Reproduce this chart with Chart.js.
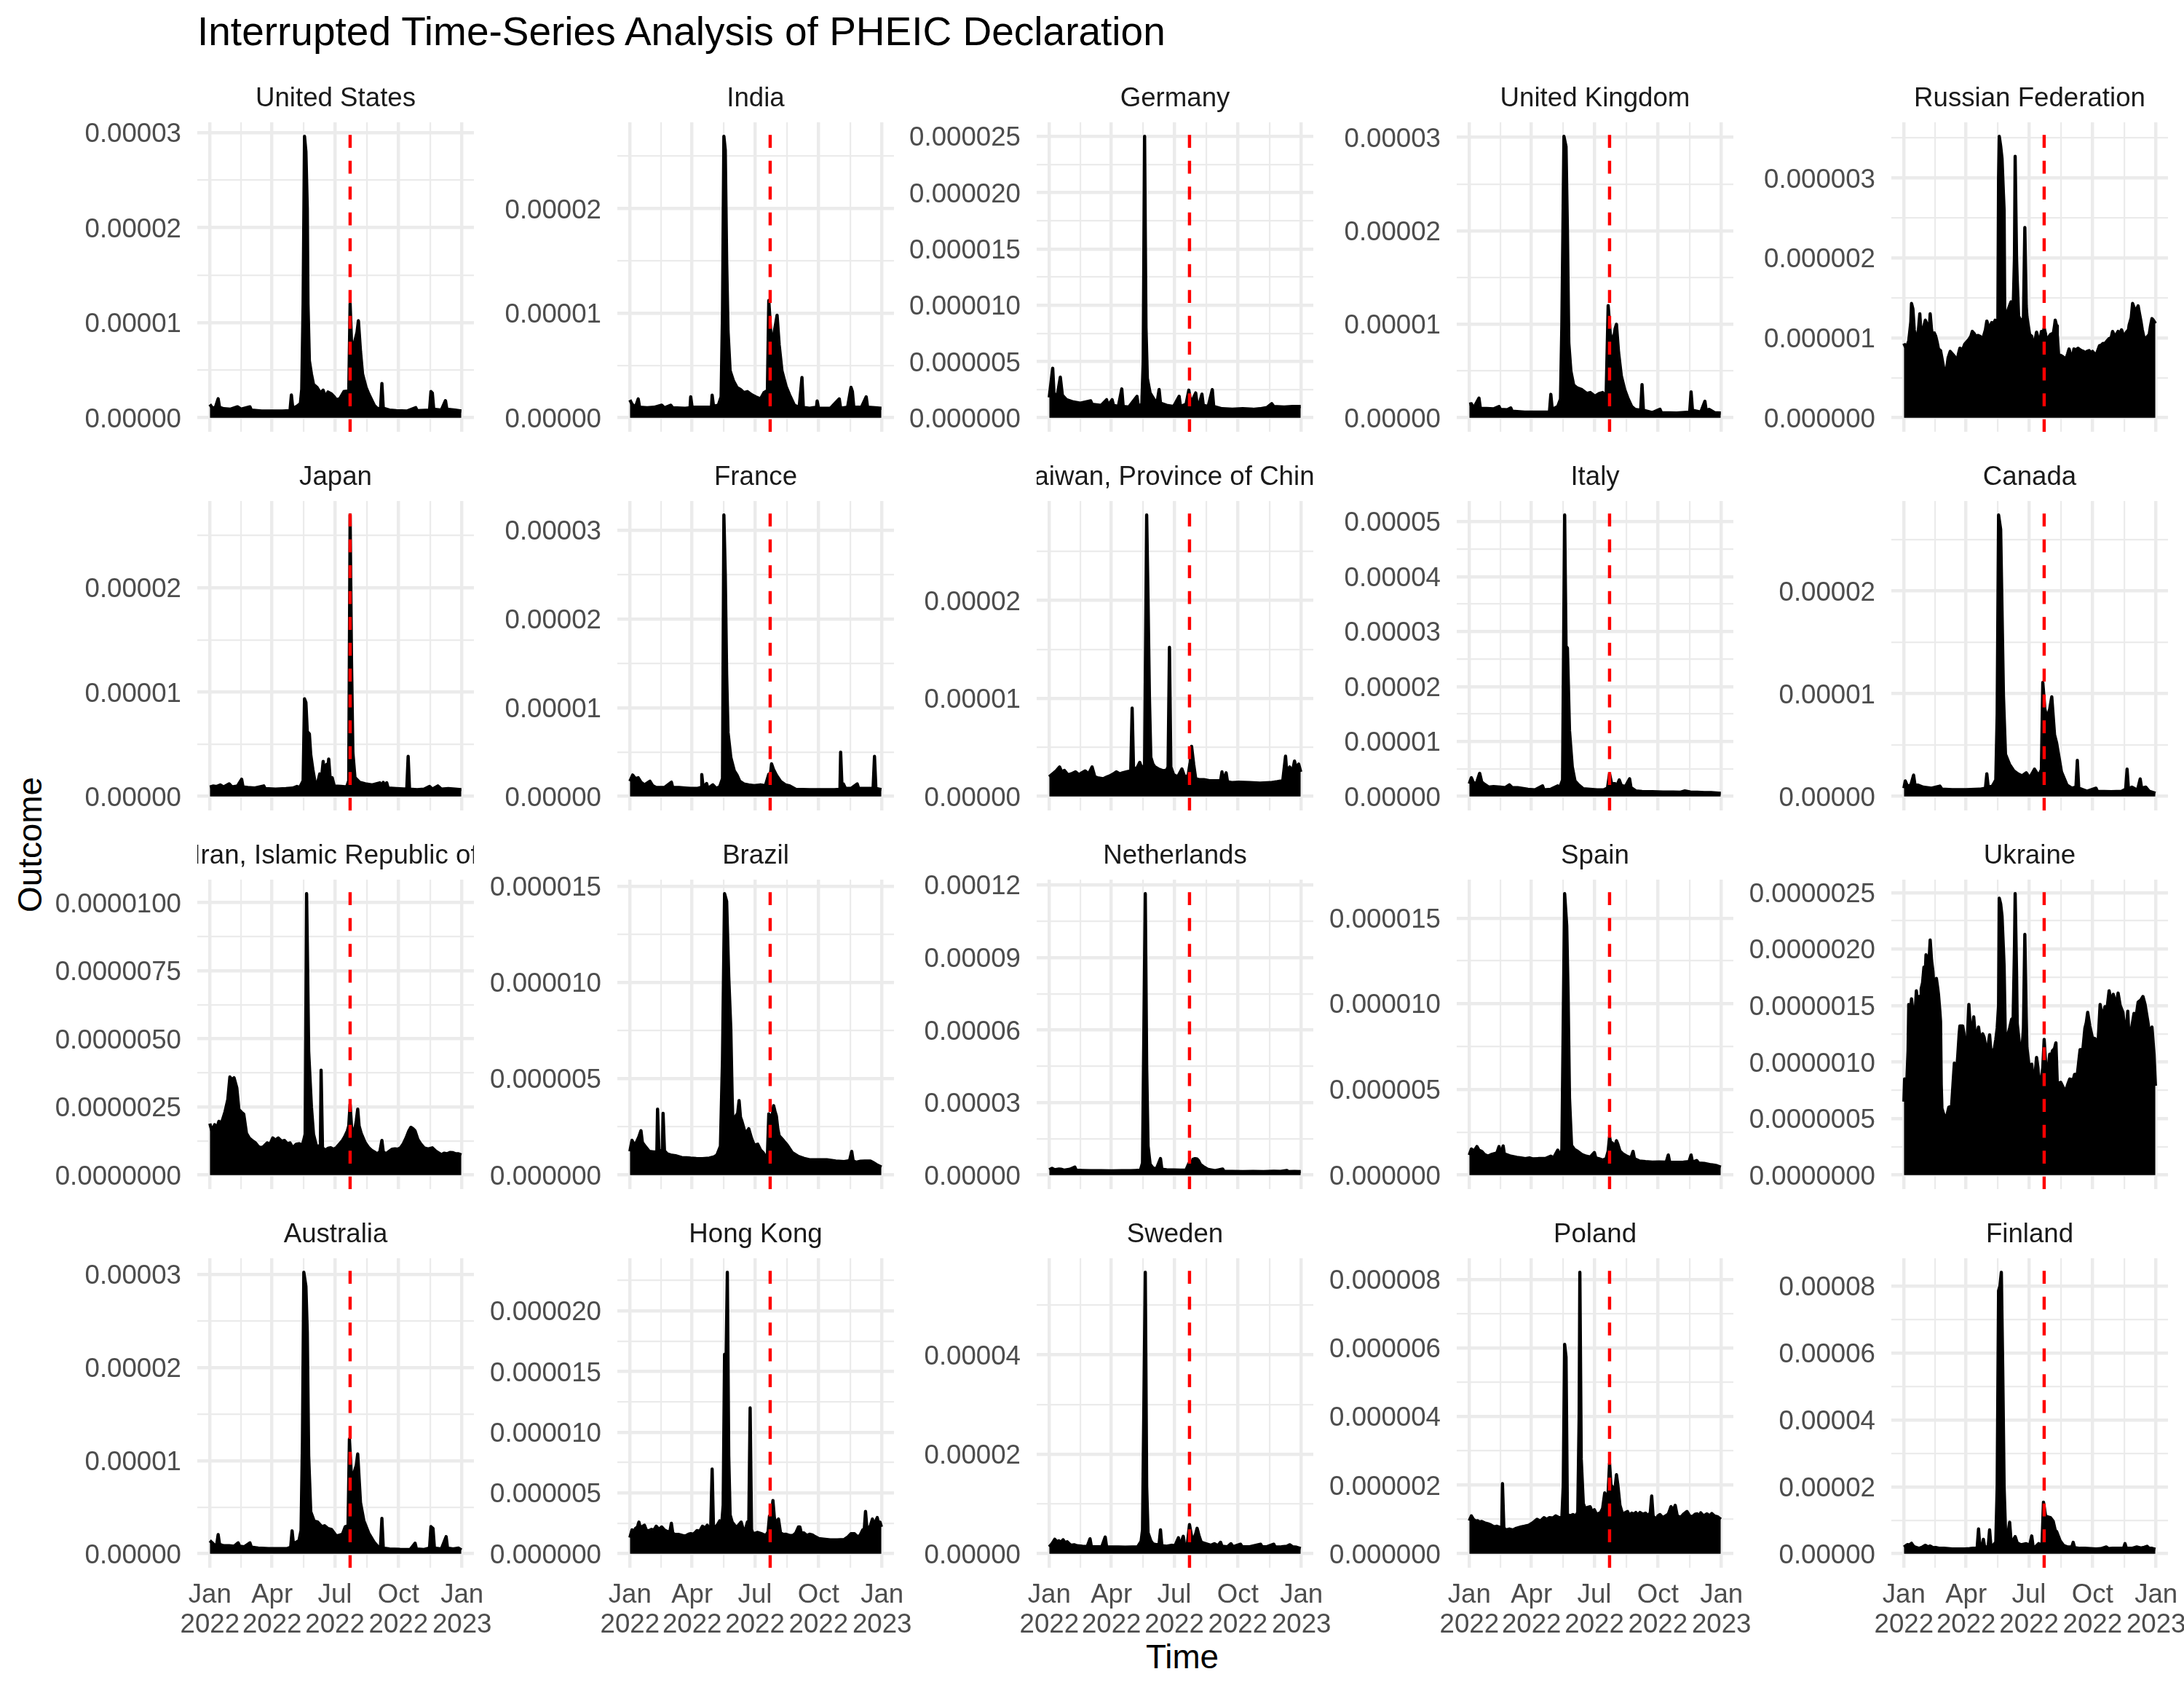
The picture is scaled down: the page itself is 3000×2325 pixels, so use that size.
<!DOCTYPE html>
<html><head><meta charset="utf-8">
<script src="https://cdn.jsdelivr.net/npm/chart.js@4.4.1/dist/chart.umd.min.js"></script>
<style>
html,body{margin:0;padding:0;background:#fff;}
#root{position:relative;width:3000px;height:2325px;background:#fff;overflow:hidden;font-family:"Liberation Sans",Arial,Helvetica,sans-serif;}
canvas{position:absolute;}
.t{position:absolute;white-space:nowrap;line-height:1;color:#000;}
</style></head><body><div id="root">
<div class="t" style="left:271px;top:15.8px;font-size:55px;">Interrupted Time-Series Analysis of PHEIC Declaration</div>
<div class="t" style="left:1624px;top:2253.2px;font-size:45.83px;transform:translateX(-50%);">Time</div>
<div class="t" style="left:42.1px;top:1160px;font-size:45.83px;transform:translate(-50%,-50%) rotate(-90deg);">Outcome</div>
</div>
<script>
// ---------------- DATA ----------------
const countries = ["United States","India","Germany","United Kingdom","Russian Federation","Japan","France","Taiwan, Province of China","Italy","Canada","Iran, Islamic Republic of","Brazil","Netherlands","Spain","Ukraine","Australia","Hong Kong","Sweden","Poland","Finland"];
const PHEIC_DAY = 203; // 2022-07-23, day index from 2022-01-01
const xTickDays = [0, 90, 181, 273, 365];
const xTickMonths = ["Jan","Apr","Jul","Oct","Jan"];
const xTickYears = ["2022","2022","2022","2022","2023"];
// multiplier of each series' values
const valueUnits = [1e-6,1e-6,1e-6,1e-6,1e-7, 1e-6,1e-6,1e-6,1e-6,1e-6, 1e-7,1e-7,1e-6,1e-7,1e-7, 1e-6,1e-7,1e-6,1e-7,1e-6];

// [day, value] points (upper envelope of the daily series)
const unitedStates = [[0,1.4],[2,1.2],[4,1.0],[8,1.1],[12,2.0],[14,1.1],[20,0.95],[30,0.9],[40,1.15],[45,0.9],[58,1.15],[60,0.8],[75,0.7],[90,0.7],[105,0.7],[116,0.75],[118,2.4],[120,1.0],[126,1.2],[131,1.5],[133,3.0],[135,12],[137,29.6],[139,28],[141,22],[142,12],[144,6],[147,4.6],[150,3.5],[155,3.2],[160,2.6],[164,2.9],[167,2.2],[171,2.7],[176,2.5],[180,2.2],[183,1.9],[188,2.0],[194,2.75],[198,2.8],[201,2.5],[203,12],[205,8],[208,7.5],[213,9],[215,10.2],[218,7],[221,4.6],[226,3.2],[230,2.5],[238,1.3],[242,1.0],[247,0.9],[249,3.6],[251,1.0],[260,0.8],[270,0.75],[285,0.7],[298,1.06],[300,0.75],[318,0.8],[320,2.75],[322,2.6],[324,0.9],[335,0.8],[341,1.8],[343,0.9],[355,0.8],[364,0.7]];
const india = [[0,1.7],[3,1.3],[8,1.0],[12,1.8],[14,1.0],[25,0.95],[35,1.0],[46,1.2],[50,0.95],[59,1.2],[62,0.95],[80,0.9],[87,0.95],[88,2.0],[90,1.0],[105,1.0],[118,1.0],[119,2.15],[121,1.1],[128,1.2],[132,2.0],[134,10],[136,26.9],[138,25.6],[140,15],[142,8.3],[145,4.5],[150,3.5],[155,2.9],[160,2.7],[165,2.4],[170,2.5],[176,2.2],[182,2.0],[189,1.8],[194,2.4],[199,2.6],[201,11.2],[204,8],[207,7.5],[211,9],[213,9.8],[216,7],[220,4.5],[226,3.0],[231,2.2],[238,1.2],[245,1.0],[249,3.85],[251,1.0],[260,0.9],[270,1.0],[271,1.6],[273,0.9],[290,0.9],[303,1.8],[305,0.9],[315,1.0],[320,2.9],[322,2.5],[324,1.0],[335,1.0],[342,2.0],[344,1.0],[355,0.95],[364,0.9]];
const germany = [[0,1.8],[5,4.4],[7,2.0],[12,2.1],[16,3.6],[19,2.0],[25,1.6],[35,1.4],[45,1.3],[60,1.5],[62,1.2],[75,1.1],[83,1.6],[85,1.1],[91,1.6],[93,1.1],[100,1.0],[105,2.56],[107,1.0],[115,0.95],[127,1.9],[129,1.0],[134,1.2],[136,5],[138,25.0],[140,8],[142,3.5],[146,2.2],[152,1.6],[156,1.3],[159,2.5],[161,1.3],[170,1.1],[180,1.0],[188,1.9],[190,1.0],[198,1.2],[202,2.45],[205,1.3],[209,1.8],[212,2.2],[214,1.2],[218,1.4],[221,2.1],[223,1.1],[230,1.0],[236,2.5],[238,1.0],[250,0.8],[265,0.75],[280,0.8],[295,0.75],[305,0.8],[315,0.9],[322,1.25],[325,1.0],[340,0.95],[352,1.0],[364,1.0]];
const unitedKingdom = [[0,1.45],[3,1.5],[6,1.0],[14,2.1],[16,1.0],[25,1.0],[35,0.95],[43,1.2],[45,0.9],[55,0.85],[60,1.05],[62,0.7],[80,0.6],[100,0.6],[116,0.6],[118,2.5],[120,0.9],[128,1.2],[132,2.0],[134,10],[137,30.1],[140,29],[142,20],[144,8],[147,5],[151,3.5],[156,3.2],[163,3.0],[170,2.6],[175,2.7],[182,2.3],[188,2.6],[193,2.7],[198,2.2],[201,12.0],[204,9],[208,8],[211,9.5],[213,10.0],[216,7],[220,4.5],[225,3.0],[230,2.0],[235,1.2],[240,0.9],[248,0.8],[250,3.55],[252,0.8],[265,0.55],[276,0.9],[278,0.55],[300,0.5],[319,0.6],[321,2.76],[323,0.8],[335,0.6],[341,1.76],[343,0.7],[347,0.9],[355,0.55],[364,0.5]];
const russianFederation = [[0,9.3],[2,8.9],[4,8.9],[7,9.6],[10,12],[11,14.3],[13,13.6],[15,11],[16,10.1],[19,10.2],[21,11],[23,13.0],[25,10.1],[27,10.5],[29,11.5],[31,12.2],[33,11.8],[35,10.8],[37,11.5],[38,13.0],[40,11],[41,10.5],[44,10.6],[46,10.2],[48,9.5],[50,8.6],[53,8.4],[56,7.0],[58,6.0],[60,6.1],[62,6.2],[64,7.5],[67,8.3],[70,8.0],[73,7.7],[77,7.1],[79,8.0],[81,8.7],[85,8.5],[88,9.2],[91,9.5],[94,9.8],[97,10.2],[99,10.8],[102,10.5],[104,10.1],[107,10.3],[110,10.2],[113,10.0],[115,10.1],[118,11],[120,12.1],[122,11.5],[124,11.2],[127,11.9],[130,11.8],[132,12.2],[135,11.8],[136,12],[137,30],[138,35.2],[140,34],[142,32.4],[144,28],[145,26],[146,11.8],[148,12.5],[150,13.3],[152,13.8],[155,14.5],[158,13],[160,20],[161,32.7],[163,20],[164,17.2],[166,12.7],[169,12.2],[171,11.9],[173,12.5],[175,23.8],[177,14],[178,12.7],[180,11.5],[182,10.4],[185,10.2],[187,9.0],[190,9.8],[192,10.7],[194,10.0],[196,9.5],[198,10.2],[199,10.8],[201,10.5],[203,11.2],[205,10.5],[206,9.6],[209,10.0],[212,10.4],[214,10.5],[216,10.4],[218,11.5],[219,12.2],[221,11.5],[222,10.4],[224,7.7],[227,7.8],[229,7.7],[232,7.5],[234,7.2],[237,8.0],[239,8.6],[241,8.0],[243,7.4],[245,8.0],[246,8.6],[249,8.5],[252,8.7],[255,8.5],[257,8.4],[260,8.3],[262,8.1],[265,8.3],[268,8.4],[270,8.1],[273,8.3],[276,8.0],[278,7.8],[281,8.5],[283,9.0],[286,9.1],[288,9.3],[291,9.3],[294,9.6],[297,9.9],[300,10.0],[302,10.8],[305,10.2],[308,10.5],[310,10.8],[313,10.6],[315,11.0],[318,10.2],[320,10.4],[322,10.7],[325,11.0],[326,11.6],[329,12.5],[331,14.3],[333,13.8],[334,13.3],[337,13.6],[339,14.0],[341,13.0],[343,12.1],[345,11.0],[348,9.8],[350,10.0],[352,10.1],[355,10.4],[357,11.5],[359,12.4],[361,12.2],[364,11.8]];
const japan = [[0,0.9],[5,1.0],[10,0.95],[15,1.1],[20,0.9],[28,1.2],[32,0.9],[40,1.0],[46,1.64],[48,0.9],[55,0.85],[65,0.8],[78,1.0],[80,0.75],[95,0.7],[110,0.75],[120,0.8],[126,0.95],[130,0.85],[135,1.5],[137,9.35],[139,9.0],[141,6.2],[144,6.0],[146,4],[149,2.6],[152,1.45],[156,1.3],[159,2.15],[161,1.3],[164,3.35],[166,1.5],[169,3.07],[170,1.6],[172,3.58],[174,1.8],[177,1.8],[180,1.0],[190,0.95],[198,0.9],[201,1.5],[203,26.97],[205,13],[207,4.2],[210,1.8],[217,1.34],[225,1.2],[235,1.1],[246,1.3],[248,0.9],[251,1.34],[253,0.9],[256,1.3],[258,0.8],[270,0.75],[285,0.7],[287,3.83],[289,0.7],[300,0.65],[310,0.7],[318,0.95],[322,0.7],[330,1.0],[335,0.7],[345,0.75],[355,0.7],[364,0.65]];
const france = [[0,1.7],[4,2.4],[8,2.0],[12,2.1],[16,1.6],[21,1.3],[29,1.7],[33,1.2],[38,1.0],[50,1.0],[60,1.6],[62,1.0],[71,1.0],[80,0.95],[88,0.9],[98,0.9],[103,1.0],[104,2.45],[106,1.0],[111,1.45],[113,0.9],[120,1.3],[125,0.9],[130,1.1],[134,2.0],[136,31.7],[138,25],[140,13.7],[142,7.2],[146,4.4],[151,2.9],[155,2.4],[159,1.7],[165,1.4],[172,1.3],[180,1.2],[189,1.3],[196,1.2],[201,2.5],[203,2.2],[205,3.67],[208,3.0],[212,2.4],[218,1.7],[225,1.3],[231,1.2],[240,0.8],[260,0.76],[280,0.75],[296,0.76],[304,0.8],[305,4.98],[307,1.0],[309,1.4],[312,0.9],[320,0.9],[329,1.4],[331,0.9],[340,0.9],[352,0.9],[354,4.5],[356,0.9],[364,0.76]];
const taiwan = [[0,2.0],[5,2.3],[10,2.6],[15,3.0],[18,2.5],[22,2.65],[27,2.2],[32,2.3],[38,2.5],[43,2.2],[47,2.4],[52,2.6],[57,2.3],[62,3.0],[66,2.0],[70,1.9],[78,1.8],[84,2.0],[88,2.1],[93,2.3],[97,2.5],[102,2.3],[106,2.4],[112,2.5],[118,2.6],[120,9.0],[122,2.8],[127,2.9],[131,3.47],[134,2.8],[138,3.2],[140,20],[141,28.7],[143,20],[145,10],[147,4.0],[150,3.3],[153,3.0],[158,2.8],[165,2.6],[170,2.7],[172,3.0],[174,15.2],[176,3.0],[180,2.2],[186,2.0],[192,2.8],[196,2.0],[201,2.1],[204,3.5],[206,5.1],[209,3.3],[212,1.8],[218,1.7],[224,1.7],[232,1.6],[240,1.6],[248,1.6],[250,2.5],[252,1.6],[256,2.4],[258,1.5],[265,1.4],[275,1.45],[290,1.4],[305,1.35],[320,1.4],[330,1.5],[338,1.6],[342,4.1],[344,2.2],[348,3.0],[352,2.5],[355,3.6],[358,2.7],[361,3.3],[364,2.5]];
const italy = [[0,2.3],[3,3.4],[6,2.5],[10,2.3],[15,4.2],[18,2.6],[21,2.3],[28,1.7],[35,1.8],[45,1.7],[52,1.6],[58,2.1],[62,1.6],[70,1.6],[75,1.5],[85,1.3],[95,1.2],[106,1.9],[108,1.2],[118,1.3],[128,1.9],[131,1.6],[135,3],[138,51.2],[140,27.3],[142,27],[145,12],[149,5.4],[153,2.8],[158,2.1],[165,1.4],[175,1.3],[185,1.2],[195,1.2],[200,1.5],[203,4.1],[206,2.3],[211,2.3],[214,2.0],[217,3.0],[220,2.0],[226,1.8],[232,3.2],[234,1.6],[241,1.0],[250,0.9],[265,0.85],[280,0.8],[295,0.8],[305,0.75],[312,1.0],[320,0.8],[330,0.75],[340,0.7],[350,0.7],[364,0.57]];
const canada = [[0,0.8],[2,1.5],[5,1.0],[10,1.1],[14,2.07],[16,1.1],[20,1.1],[28,0.9],[40,0.8],[52,1.0],[55,0.7],[70,0.65],[90,0.65],[110,0.7],[118,0.8],[120,2.2],[122,0.9],[128,1.0],[133,1.6],[135,8],[137,27.4],[140,26],[142,18],[144,9.9],[147,4.1],[153,3.1],[159,2.5],[165,2.2],[171,2.0],[177,2.3],[182,1.8],[189,2.65],[195,2.0],[199,2.6],[201,11.1],[204,8.5],[207,7.6],[211,8.5],[214,9.7],[218,6],[221,5.2],[228,2.4],[236,1.1],[243,0.8],[249,0.9],[251,3.5],[253,0.8],[265,0.5],[278,0.8],[280,0.5],[300,0.45],[315,0.5],[321,0.7],[323,2.65],[325,0.7],[330,0.9],[338,0.6],[342,1.7],[344,0.8],[350,0.9],[355,0.5],[364,0.3]];
const iran = [[0,18.9],[3,16.2],[7,18.5],[10,17],[13,19.7],[16,19],[18,20],[22,23.3],[26,27.7],[29,36],[32,35],[35,35.7],[39,32],[42,24],[46,23],[49,22.4],[53,15.3],[57,13.6],[62,12.5],[66,11.8],[70,10.5],[74,10],[78,10.5],[83,11.8],[87,11.3],[91,13.6],[95,12.8],[99,13.6],[104,12.4],[108,12.7],[112,11.5],[116,11.8],[120,10.0],[125,11.3],[129,11.5],[134,11.0],[138,15],[140,103.3],[141,85.3],[143,45.4],[146,30],[147,25],[150,15],[154,10.9],[157,10.5],[160,11],[161,38.5],[163,10],[167,9.1],[171,9.8],[175,10.0],[179,9.5],[183,10.0],[188,11.5],[192,12.7],[195,14],[199,16.2],[201,18],[203,26],[205,18],[207,15.3],[210,17],[212,20],[214,24.2],[216,18],[219,15.3],[222,13.5],[225,11.8],[230,10],[234,9.1],[238,8.5],[242,7.8],[246,8.5],[249,12.7],[251,8.5],[255,7.8],[260,8.8],[264,9.5],[268,9.6],[272,9.5],[276,10],[280,11.5],[284,13.6],[288,16.2],[291,17.5],[294,17.0],[297,16.2],[301,13.1],[305,11.5],[310,10],[316,9.6],[322,10.0],[327,8.8],[332,8.0],[335,7.4],[339,8.0],[343,7.8],[348,8.3],[352,8.2],[356,7.8],[360,7.8],[364,7.4]];
const brazil = [[0,12.3],[3,18],[6,16],[9,16.7],[13,19.8],[16,23],[18,17],[21,15.4],[28,12.3],[34,12],[39,12],[40,34.2],[42,12],[47,13],[48,32],[50,12.5],[54,11],[59,10.4],[66,10],[75,9.1],[82,9.0],[88,8.8],[96,8.6],[105,8.5],[115,8.8],[122,9.5],[126,10.4],[131,15],[134,60],[137,146],[140,142],[143,103],[146,76],[148,40],[149,28],[152,30],[156,32],[158,38.6],[160,30],[162,28],[166,23],[168,21.7],[172,24],[176,19],[180,15.4],[185,16],[189,13],[193,11.6],[197,9.1],[199,10],[201,31.7],[204,30],[206,31],[208,36],[210,33],[212,30.5],[214,24],[216,20.4],[222,18],[228,15.4],[235,11.6],[243,9.8],[252,8.6],[260,7.9],[272,7.9],[285,7.9],[298,7.3],[310,7.0],[318,7.5],[321,12.3],[323,7.5],[327,6.6],[334,7.2],[340,7.3],[348,7.3],[352,6.5],[357,5.4],[364,4.1]];
const netherlands = [[0,2.2],[4,2.8],[8,2.2],[14,2.5],[17,2.4],[22,2.0],[30,2.4],[37,3.3],[39,2.0],[48,1.9],[60,1.8],[75,1.8],[90,1.7],[105,1.8],[118,1.8],[125,1.9],[132,2.0],[135,5],[137,60],[139,116.4],[141,45],[143,12],[146,4.5],[150,3.0],[155,2.5],[161,6.8],[163,2.4],[170,2.2],[180,2.1],[190,2.0],[198,2.1],[202,4.8],[205,3.5],[208,6.5],[211,6.8],[214,6.6],[216,6.0],[219,4.3],[223,3.5],[230,2.3],[240,1.8],[251,2.5],[253,1.6],[265,1.5],[280,1.4],[295,1.5],[310,1.4],[325,1.6],[335,1.5],[344,1.9],[346,1.4],[355,1.5],[364,1.4]];
const spain = [[0,11.7],[3,15.2],[7,14],[11,16.6],[14,14.5],[18,13.8],[22,12],[27,11],[32,12],[37,12.5],[40,13],[43,16.6],[46,12],[49,17],[51,11.5],[53,12],[60,11],[69,10.3],[75,10],[81,9.6],[87,10],[92,9.4],[100,9.6],[110,9.6],[118,11],[122,10],[128,14.5],[131,10.5],[134,15],[136,90],[138,164.2],[141,145.5],[143,105],[145,45],[148,17.3],[152,15],[157,13.8],[163,12],[169,11],[175,10.5],[181,13.1],[183,10],[188,9.5],[193,8.8],[198,9.5],[201,14],[203,22.3],[205,18],[207,18.7],[210,16],[213,20],[215,18],[218,14],[222,12.5],[228,11],[234,10],[237,13.8],[239,9.5],[246,8.2],[255,7.8],[265,7.5],[275,7.6],[285,7.5],[288,11.7],[290,7.5],[300,7.4],[310,7.5],[318,7.8],[321,11.7],[323,7.5],[329,8.5],[332,7.0],[340,6.8],[350,6.0],[358,5.5],[364,4.6]];
const ukraine = [[0,6.5],[1,8.5],[4,7.9],[6,11],[7,15.1],[9,14],[11,15.6],[13,14.5],[15,12.9],[18,16.3],[20,15],[22,15.8],[24,15],[25,16.5],[27,17],[29,18.4],[31,18],[32,19.5],[34,18.8],[36,18.5],[38,20.8],[40,19],[42,18.0],[44,16.1],[46,16.5],[47,17.4],[49,16.5],[50,16.0],[52,14.5],[53,13.6],[54,8],[55,5.9],[58,5.3],[62,5.2],[65,6.0],[69,6.1],[71,8],[73,9.9],[76,8.9],[78,10.6],[80,12.5],[81,13.2],[85,13.2],[87,12.5],[88,11.5],[92,12.3],[94,15.1],[96,13],[97,12.3],[99,13],[101,14.0],[104,11.8],[106,12.5],[108,13.1],[111,11.7],[114,12.5],[116,12.2],[118,11.5],[120,10.6],[122,11.5],[124,12.4],[127,10.2],[129,11],[131,11.2],[133,12],[135,13.0],[137,15],[138,24.5],[140,24],[142,22.9],[144,20],[145,18.5],[147,11.3],[150,12.3],[153,13],[156,13.8],[158,13.5],[160,20],[161,24.9],[163,18],[164,13.4],[167,11.7],[171,11.2],[173,13],[175,21.3],[177,14],[178,11.3],[181,9.7],[185,9.8],[188,7.9],[190,9],[192,10.4],[194,9.5],[195,8.5],[199,8.6],[201,9.5],[203,12.0],[205,10],[207,8.3],[209,9.5],[211,10.7],[213,10.5],[215,11.0],[218,11.2],[220,11.7],[222,8.1],[227,8.2],[231,7.7],[234,7.4],[237,8],[240,8.5],[245,8.4],[247,8.9],[251,8.9],[253,10],[255,11.1],[259,11.1],[262,13.0],[264,13.5],[266,14.4],[269,13.2],[273,12.1],[276,12.1],[281,11.7],[284,15.1],[287,13.9],[291,14.9],[294,14.7],[297,16.3],[301,15.0],[303,16.0],[307,15.0],[310,16.1],[313,15.0],[317,14.4],[321,12.1],[324,14.5],[327,10.4],[329,12.8],[333,14.3],[336,14.0],[339,15.3],[343,15.5],[346,15.8],[349,15.1],[353,13.6],[356,12.3],[359,13.1],[362,10.7],[364,7.9]];
const australia = [[0,1.4],[3,1.2],[7,0.9],[10,1.0],[12,2.05],[14,1.0],[20,0.85],[28,0.85],[35,0.8],[41,1.16],[43,0.8],[50,0.75],[58,1.16],[60,0.7],[70,0.6],[85,0.55],[100,0.55],[112,0.55],[117,0.7],[119,2.45],[121,1.0],[124,1.2],[129,1.4],[132,2.5],[134,12],[136,30.2],[139,28.7],[141,23.8],[143,10.5],[146,4.5],[151,3.5],[156,3.4],[162,2.9],[166,3.0],[171,2.7],[176,2.6],[183,1.9],[188,2.0],[192,2.1],[196,2.9],[200,3.0],[202,12.3],[205,8.2],[208,8.5],[212,9.5],[214,10.7],[218,5.5],[223,3.5],[230,2.2],[238,1.2],[244,0.7],[247,0.8],[249,3.78],[251,0.6],[260,0.5],[275,0.46],[290,0.45],[297,1.13],[299,0.5],[310,0.45],[318,0.6],[320,2.9],[323,2.7],[325,0.6],[335,0.5],[342,1.82],[344,0.6],[352,0.5],[360,0.6],[364,0.4]];
const hongKong = [[0,13.2],[3,19.6],[6,18],[8,20.8],[11,22],[13,26],[15,21],[17,22],[21,23.4],[24,19],[28,19],[31,20],[35,19.5],[38,22.6],[42,20],[46,22],[50,19.5],[55,18],[58,18.5],[60,25],[62,17],[65,15.8],[71,15.8],[76,15],[80,14.5],[85,16],[88,16.5],[92,16],[97,19],[101,18.5],[105,22.6],[109,21],[112,23.4],[115,19.5],[117,22],[119,69.6],[121,20],[124,22],[127,24],[130,27],[133,25],[135,40],[137,164],[139,150],[141,231.6],[143,80.6],[145,32],[148,26],[152,23],[155,22],[158,24],[161,26],[164,20],[166,17],[170,26],[172,22],[174,120],[176,20],[178,16.5],[182,17],[185,17.5],[190,16.5],[193,15.8],[197,15],[200,18],[202,31],[204,27],[207,43.7],[209,30],[211,25],[215,28.5],[218,17],[222,15.8],[226,16],[231,15],[236,15],[240,17],[244,22],[246,22],[248,17],[252,17],[256,15],[260,16],[264,15.5],[268,14],[273,12.5],[280,12],[290,11.4],[300,11.4],[310,11.6],[316,14],[320,16.5],[325,16.5],[329,14],[333,15],[337,19.6],[339,18],[341,34.8],[343,21],[345,20],[348,23],[351,28.5],[353,22],[355,26],[358,29.7],[360,24],[362,26],[364,22]];
const sweden = [[0,1.37],[4,2.0],[8,2.9],[11,2.4],[14,2.6],[17,2.3],[20,2.8],[23,2.2],[26,2.4],[31,1.7],[36,1.8],[40,1.6],[48,1.5],[55,1.45],[59,3.0],[61,1.4],[70,1.4],[76,1.37],[81,3.35],[83,1.4],[90,1.35],[100,1.35],[110,1.3],[120,1.35],[128,1.4],[133,2.5],[135,4.8],[137,30],[139,56.6],[141,13.5],[143,4.2],[147,2.6],[150,2.0],[155,1.8],[159,1.9],[161,4.8],[163,1.6],[170,1.5],[177,1.7],[182,1.6],[187,3.2],[189,1.5],[194,3.5],[196,1.6],[200,2.0],[203,5.84],[206,3.5],[209,2.9],[212,4.0],[214,5.1],[217,3.5],[220,2.3],[227,2.0],[234,1.7],[239,2.0],[244,1.6],[248,2.3],[250,1.5],[258,1.4],[263,2.0],[266,1.4],[277,1.9],[279,1.4],[290,1.4],[306,1.9],[308,1.4],[315,1.4],[325,1.9],[327,1.35],[336,1.4],[344,1.5],[348,1.8],[352,1.4],[358,1.3],[364,1.05]];
const poland = [[0,9.6],[3,11],[6,10],[9,9.5],[12,9.6],[15,9.2],[18,9.4],[22,9.0],[27,8.7],[31,8.4],[36,7.8],[40,8],[45,7.6],[47,7.0],[48,20.4],[50,7.5],[53,6.9],[58,7.2],[63,6.9],[68,7.4],[75,7.8],[80,8.0],[86,8.3],[92,9.0],[98,10.0],[103,9.5],[108,10.5],[112,10],[116,10.5],[121,10.4],[125,11],[130,10.5],[134,10.5],[136,20],[138,61],[140,57.3],[142,11.4],[146,11],[150,11.4],[154,11],[157,12],[159,40],[160,82.0],[162,27.6],[165,14.6],[168,13],[171,13.5],[175,13.7],[178,12],[181,12.8],[184,11.5],[187,11.7],[190,12],[193,13.2],[196,17.7],[199,15],[201,18],[203,26.3],[205,20],[207,19.5],[210,17],[213,23],[215,20],[218,14.1],[222,11.4],[226,12],[229,12.3],[232,11],[235,11.8],[238,11.5],[241,12],[244,11.3],[247,12],[251,11.5],[255,11.8],[259,11],[262,12],[264,16.8],[266,11],[270,10],[273,11],[276,11.4],[280,10.5],[284,11],[288,11.5],[292,13.7],[295,12.5],[298,14.1],[301,11],[306,10.6],[310,11.5],[315,12.3],[319,11],[323,10.8],[327,11.5],[330,11.6],[333,11],[335,11.9],[339,11],[344,11.6],[348,11],[351,11.7],[355,11],[359,10.8],[364,10.0]];
const finland = [[0,2.0],[3,2.4],[5,2.7],[8,2.6],[11,3.1],[14,2.2],[17,1.9],[22,1.6],[27,2.0],[31,2.5],[35,2.0],[38,2.3],[42,1.8],[46,1.85],[52,1.6],[58,1.6],[64,1.5],[70,1.4],[80,1.4],[88,1.4],[95,1.5],[100,1.6],[106,1.7],[108,7.4],[110,1.7],[113,1.9],[115,4.3],[117,1.8],[122,2.2],[124,7.1],[126,2.0],[129,2.5],[133,3.4],[135,20],[137,78.6],[139,80],[141,84.1],[143,55],[145,20],[147,7.1],[150,5],[153,9.4],[155,4],[158,3.9],[161,5.1],[164,3.2],[168,2.8],[171,2.7],[177,3.0],[182,2.5],[185,5.3],[187,2.0],[190,2.0],[195,3.0],[198,2.3],[200,3.5],[202,15.4],[205,11.3],[208,11],[212,10.8],[216,9.7],[219,7],[221,6.6],[226,3.9],[231,2.5],[237,2.0],[243,2.0],[245,3.4],[247,1.8],[255,1.6],[262,1.6],[270,1.5],[278,1.4],[285,1.5],[293,2.0],[296,1.5],[302,1.6],[310,1.6],[318,1.7],[320,3.0],[322,1.6],[330,1.6],[337,2.0],[343,1.7],[348,1.9],[352,2.2],[355,1.6],[359,1.6],[364,1.3]];

// y tick labels per panel
const ticksUS = ["0.00000","0.00001","0.00002","0.00003"];
const ticksIndia = ["0.00000","0.00001","0.00002"];
const ticksGermany = ["0.000000","0.000005","0.000010","0.000015","0.000020","0.000025"];
const ticksUK = ["0.00000","0.00001","0.00002","0.00003"];
const ticksRussia = ["0.000000","0.000001","0.000002","0.000003"];
const ticksJapan = ["0.00000","0.00001","0.00002"];
const ticksFrance = ["0.00000","0.00001","0.00002","0.00003"];
const ticksTaiwan = ["0.00000","0.00001","0.00002"];
const ticksItaly = ["0.00000","0.00001","0.00002","0.00003","0.00004","0.00005"];
const ticksCanada = ["0.00000","0.00001","0.00002"];
const ticksIran = ["0.0000000","0.0000025","0.0000050","0.0000075","0.0000100"];
const ticksBrazil = ["0.000000","0.000005","0.000010","0.000015"];
const ticksNetherlands = ["0.00000","0.00003","0.00006","0.00009","0.00012"];
const ticksSpain = ["0.000000","0.000005","0.000010","0.000015"];
const ticksUkraine = ["0.0000000","0.0000005","0.0000010","0.0000015","0.0000020","0.0000025"];
const ticksAustralia = ["0.00000","0.00001","0.00002","0.00003"];
const ticksHongKong = ["0.000000","0.000005","0.000010","0.000015","0.000020"];
const ticksSweden = ["0.00000","0.00002","0.00004"];
const ticksPoland = ["0.000000","0.000002","0.000004","0.000006","0.000008"];
const ticksFinland = ["0.00000","0.00002","0.00004","0.00006","0.00008"];

const seriesList = [unitedStates,india,germany,unitedKingdom,russianFederation,japan,france,taiwan,italy,canada,iran,brazil,netherlands,spain,ukraine,australia,hongKong,sweden,poland,finland];
const yTickList = [ticksUS,ticksIndia,ticksGermany,ticksUK,ticksRussia,ticksJapan,ticksFrance,ticksTaiwan,ticksItaly,ticksCanada,ticksIran,ticksBrazil,ticksNetherlands,ticksSpain,ticksUkraine,ticksAustralia,ticksHongKong,ticksSweden,ticksPoland,ticksFinland];

// ---------------- LAYOUT ----------------
const COL_LEFT = [271, 848, 1424, 2001, 2598];
const ROW_TOP = [168, 688, 1208, 1728];
const PW = 380, PH = 425, AXW = 200, STRIP = 80, RPAD = 50;
const FONT = '"Liberation Sans", Arial, Helvetica, sans-serif';
const SMALL = 36.67;
const GRID = '#EBEBEB';
const LW = 4.44;
const root = document.getElementById('root');

const stripPlugin = {
  id: 'strip',
  afterDraw(chart, args, opts) {
    const a = chart.chartArea, ctx = chart.ctx;
    ctx.save();
    ctx.beginPath();
    ctx.rect(a.left, 0, a.right - a.left, a.top);
    ctx.clip();
    ctx.fillStyle = '#1A1A1A';
    ctx.font = SMALL + 'px ' + FONT;
    ctx.textAlign = 'center';
    ctx.textBaseline = 'alphabetic';
    ctx.fillText(opts.text, (a.left + a.right) / 2, a.top - 22.5);
    ctx.restore();
  }
};

function makePanel(i) {
  const row = Math.floor(i / 5), col = i % 5, last = row === 3;
  const unit = valueUnits[i];
  const pts = seriesList[i].map(([d, v]) => ({x: d, y: v * unit}));
  const yHi = Math.max(...pts.map(p => p.y));
  const yLo = 0;
  const ySpan = yHi - yLo;
  const yMin = yLo - 0.05 * ySpan, yMax = yHi + 0.05 * ySpan;
  const dMin = Math.min(...pts.map(p => p.x)), dMax = Math.max(...pts.map(p => p.x));
  const xSpan = dMax - dMin;
  const xMin = dMin - 0.05 * xSpan, xMax = dMax + 0.05 * xSpan;

  const labels = yTickList[i];
  const majors = labels.map(s => parseFloat(s));
  const step = majors[1] - majors[0];
  const yTicks = majors.map((v, k) => ({value: v, isMajor: true, lbl: labels[k]}));
  for (let j = -2; j < majors.length + 2; j++) {
    const v = majors[0] + (j + 0.5) * step;
    if (v >= yMin && v <= yMax) yTicks.push({value: v, isMajor: false, lbl: ''});
  }
  yTicks.sort((a, b) => a.value - b.value);

  const xTicks = xTickDays.map((d, k) => ({value: d, isMajor: true, lbl: [xTickMonths[k], xTickYears[k]]}));
  for (let k = 0; k < xTickDays.length - 1; k++) {
    xTicks.push({value: (xTickDays[k] + xTickDays[k + 1]) / 2, isMajor: false, lbl: ''});
  }
  xTicks.sort((a, b) => a.value - b.value);

  const bottomH = last ? 130 : 0;
  const padB = last ? 0 : 50;
  const cv = document.createElement('canvas');
  const W = AXW + PW + RPAD, H = STRIP + PH + bottomH + padB;
  cv.width = W; cv.height = H;
  cv.style.left = (COL_LEFT[col] - AXW) + 'px';
  cv.style.top = (ROW_TOP[row] - STRIP) + 'px';
  cv.style.width = W + 'px'; cv.style.height = H + 'px';
  root.appendChild(cv);

  new Chart(cv, {
    type: 'line',
    data: {
      datasets: [
        {
          data: [{x: PHEIC_DAY, y: yMax}, {x: PHEIC_DAY, y: yMin}],
          borderColor: '#FF0000', borderWidth: LW, borderDash: [17.6, 17.9], borderDashOffset: 18.2,
          borderCapStyle: 'butt', pointRadius: 0, fill: false, order: 0
        },
        {
          data: pts, borderColor: '#000000', backgroundColor: '#000000', borderWidth: LW,
          borderJoinStyle: 'round', borderCapStyle: 'butt',
          pointRadius: 0, tension: 0, fill: 'origin', order: 1
        }
      ]
    },
    options: {
      responsive: false, animation: false, devicePixelRatio: 1, parsing: false, normalized: true,
      layout: {padding: {left: 0, right: RPAD, top: STRIP, bottom: padB}},
      plugins: {legend: {display: false}, tooltip: {enabled: false}, strip: {text: countries[i]}},
      scales: {
        x: {
          type: 'linear', min: xMin, max: xMax,
          afterBuildTicks: s => { s.ticks = xTicks.map(t => Object.assign({}, t)); },
          afterFit: s => { s.height = bottomH; },
          grid: {color: GRID, drawTicks: false, lineWidth: c => (c.tick && c.tick.isMajor) ? LW : LW / 2},
          border: {display: false},
          ticks: {
            display: last, autoSkip: false, maxRotation: 0, minRotation: 0, padding: 17,
            color: '#4D4D4D', font: {family: FONT, size: SMALL, lineHeight: 1.118},
            callback: (v, idx, ts) => ts[idx].lbl
          }
        },
        y: {
          type: 'linear', min: yMin, max: yMax,
          afterBuildTicks: s => { s.ticks = yTicks.map(t => Object.assign({}, t)); },
          afterFit: s => { s.width = AXW; },
          grid: {color: GRID, drawTicks: false, lineWidth: c => (c.tick && c.tick.isMajor) ? LW : LW / 2},
          border: {display: false},
          ticks: {
            autoSkip: false, padding: 22, labelOffset: 3, color: '#4D4D4D', font: {family: FONT, size: SMALL},
            callback: (v, idx, ts) => ts[idx].lbl
          }
        }
      }
    },
    plugins: [stripPlugin]
  });
}

for (let i = 0; i < countries.length; i++) makePanel(i);
</script></body></html>
